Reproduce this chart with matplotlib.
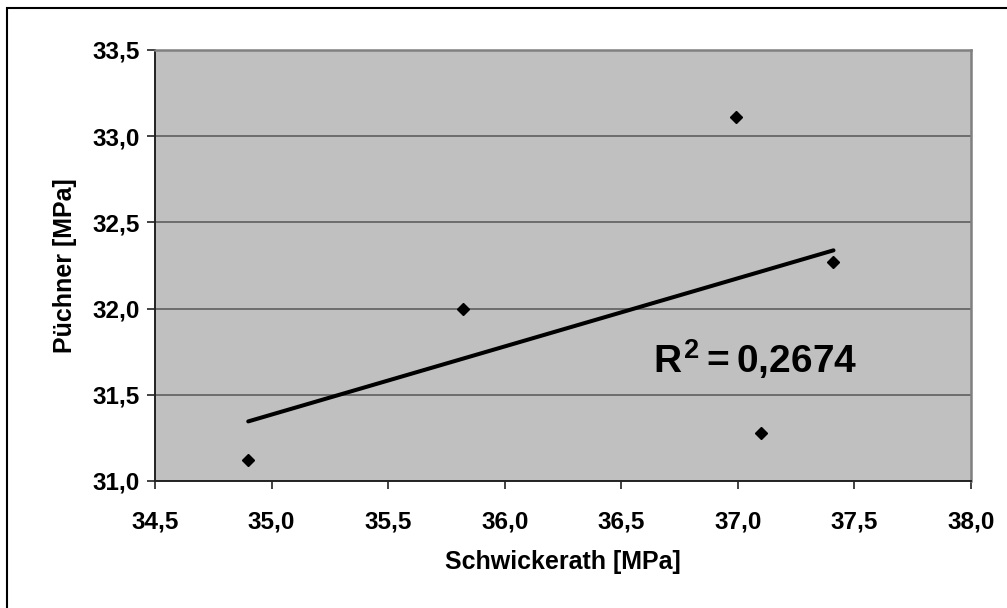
import numpy as np
import matplotlib
matplotlib.use("Agg")
import matplotlib.pyplot as plt
from matplotlib.patches import Rectangle
from matplotlib.ticker import FuncFormatter

plt.rcParams['font.family'] = ['Liberation Sans', 'DejaVu Sans']
plt.rcParams['font.weight'] = 'bold'
plt.rcParams['mathtext.fontset'] = 'custom'
plt.rcParams['mathtext.rm'] = 'Liberation Sans:bold'
plt.rcParams['mathtext.it'] = 'Liberation Sans:bold'
plt.rcParams['mathtext.bf'] = 'Liberation Sans:bold'

# data
schwickerath = [34.90, 35.82, 36.99, 37.10, 37.41]
puechner = [31.12, 32.00, 33.11, 31.28, 32.27]
x_ticks = [34.5, 35.0, 35.5, 36.0, 36.5, 37.0, 37.5, 38.0]
y_ticks = [31.0, 31.5, 32.0, 32.5, 33.0, 33.5]
r2_label = r'$R^2 = 0{,}2674$'

fig = plt.figure(figsize=(10.07, 6.08), dpi=100)
ax = fig.add_axes([0.1539, 0.2089, 0.8104, 0.7089])
ax.set_facecolor('#C0C0C0')

# linear trend line over the data range
k, d = np.polyfit(schwickerath, puechner, 1)
xs = np.array([min(schwickerath), max(schwickerath)])
ax.plot(xs, k * xs + d, color='black', lw=2.9, solid_capstyle='round', zorder=3)

ax.plot(schwickerath, puechner, linestyle='none', marker='D', ms=6.6,
        color='black', zorder=4)

ax.set_xlim(x_ticks[0], x_ticks[-1])
ax.set_ylim(y_ticks[0], y_ticks[-1])
ax.set_xticks(x_ticks)
ax.set_yticks(y_ticks)
comma = FuncFormatter(lambda v, p: ('%.1f' % v).replace('.', ','))
ax.xaxis.set_major_formatter(comma)
ax.yaxis.set_major_formatter(comma)
ax.tick_params(axis='both', direction='out', length=6, width=1.2,
               color='#222222', labelsize=17.5)
ax.tick_params(axis='x', pad=15)
ax.tick_params(axis='y', pad=5)

ax.grid(axis='y', color='#555555', lw=1.1)
ax.set_axisbelow(True)
for s in ['left', 'bottom']:
    ax.spines[s].set_color('#222222')
    ax.spines[s].set_linewidth(1.4)
for s in ['top', 'right']:
    ax.spines[s].set_color('#808080')
    ax.spines[s].set_linewidth(1.8)

ax.set_xlabel('Schwickerath [MPa]', fontsize=18, fontweight='bold', labelpad=12)
ax.set_ylabel('Püchner [MPa]', fontsize=18, fontweight='bold', labelpad=11)

ax.text(36.636, 31.708, r2_label, fontsize=28, va='center', ha='left')

# outer chart border
fig.patches.append(Rectangle((0.007, -0.05), 1.05, 1.0368, transform=fig.transFigure,
                             fill=False, edgecolor='black', lw=1.5))

fig.savefig('out.png', dpi=100)
